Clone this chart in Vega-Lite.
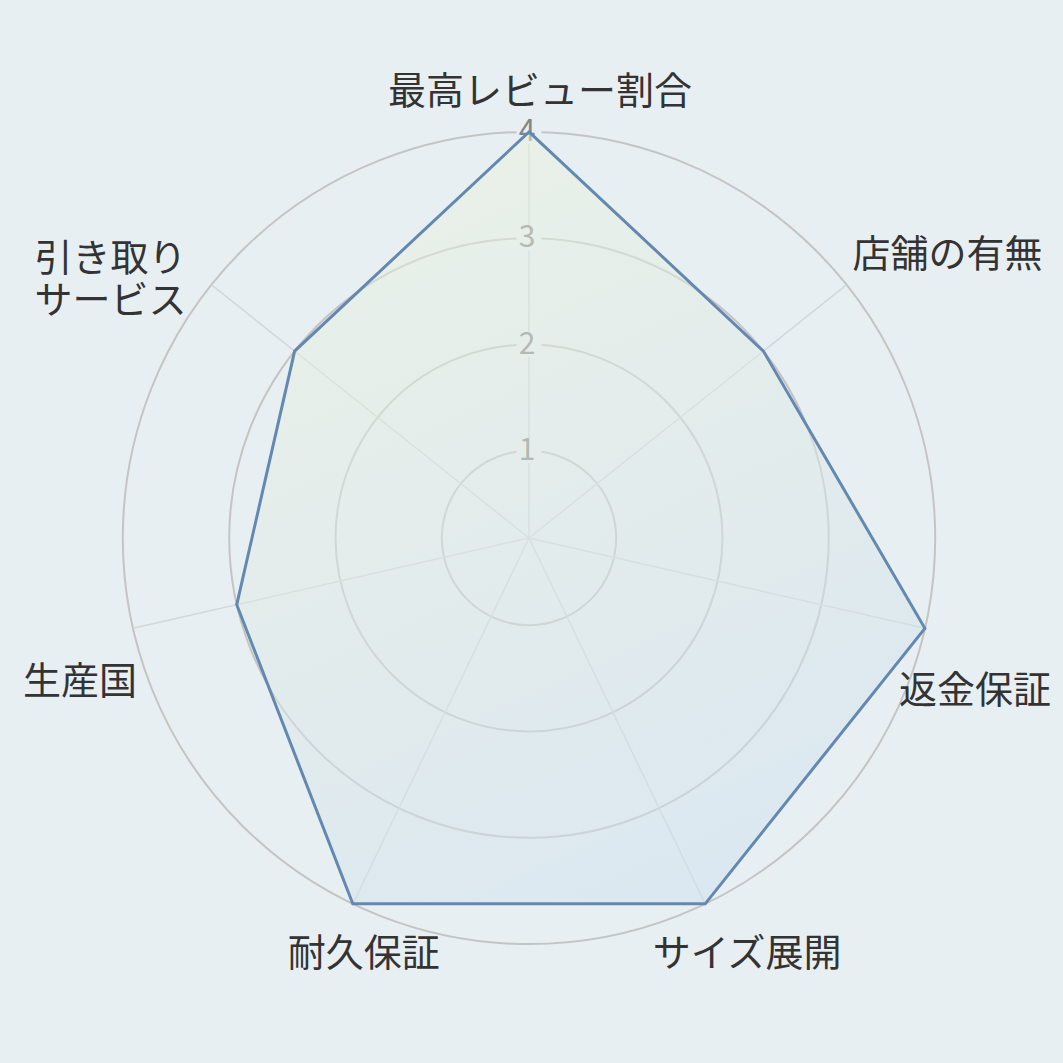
{
  "$schema": "https://vega.github.io/schema/vega-lite/v6.json",
  "width": 1063,
  "height": 1063,
  "autosize": {"type": "none"},
  "padding": 0,
  "background": "#e8eff3",
  "config": {
    "view": {"stroke": null},
    "axis": {"disable": true},
    "text": {"font": "Noto Sans CJK JP"}
  },
  "data": {
    "values": [
      {"idx": 0, "label": "最高レビュー割合", "value": 4},
      {"idx": 1, "label": "店舗の有無", "value": 3},
      {"idx": 2, "label": "返金保証", "value": 4},
      {"idx": 3, "label": "サイズ展開", "value": 4},
      {"idx": 4, "label": "耐久保証", "value": 4},
      {"idx": 5, "label": "生産国", "value": 3},
      {"idx": 6, "label": "引き取り\nサービス", "value": 3}
    ]
  },
  "transform": [
    {"calculate": "datum.idx * 2 * PI / 7", "as": "theta"},
    {"calculate": "(datum.value - 0.18) * sin(datum.theta)", "as": "x"},
    {"calculate": "(datum.value - 0.18) * cos(datum.theta)", "as": "y"},
    {"calculate": "3.82 * sin(datum.theta)", "as": "xo"},
    {"calculate": "3.82 * cos(datum.theta)", "as": "yo"}
  ],
  "layer": [
    {
      "data": {"values": [{"ring": 1}, {"ring": 2}, {"ring": 3}, {"ring": 4}]},
      "mark": {"type": "arc", "theta": 0, "theta2": 6.2832, "filled": false, "stroke": "#c4c4c4", "strokeWidth": 2},
      "encoding": {
        "x": {"datum": 0, "type": "quantitative", "scale": {"domain": [-4.9765, 5.0235], "nice": false, "zero": false}},
        "y": {"datum": 0, "type": "quantitative", "scale": {"domain": [-4.9389, 5.0611], "nice": false, "zero": false}},
        "radius": {"field": "ring", "type": "quantitative", "stack": null, "scale": {"type": "linear", "domain": [0.18, 4], "range": [0, 406.07], "zero": false, "nice": false}}
      }
    },
    {
      "mark": {"type": "rule", "stroke": "#d3d7da", "strokeWidth": 1.5},
      "encoding": {
        "x": {"field": "xo", "type": "quantitative"},
        "y": {"field": "yo", "type": "quantitative"},
        "x2": {"datum": 0},
        "y2": {"datum": 0}
      }
    },
    {
      "data": {"values": [{"tick": 1}, {"tick": 2}, {"tick": 3}, {"tick": 4}]},
      "transform": [{"calculate": "datum.tick - 0.18", "as": "ty"}],
      "mark": {"type": "point", "shape": "square", "size": 620, "filled": true, "fill": "#e8eff3", "opacity": 1, "strokeWidth": 0},
      "encoding": {
        "x": {"datum": 0, "type": "quantitative"},
        "y": {"field": "ty", "type": "quantitative"}
      }
    },
    {
      "data": {"values": [{"tick": 1}, {"tick": 2}, {"tick": 3}, {"tick": 4}]},
      "transform": [{"calculate": "datum.tick - 0.18", "as": "ty"}],
      "mark": {"type": "text", "fontSize": 30, "fill": "#858585", "baseline": "middle", "align": "center", "dx": -2},
      "encoding": {
        "x": {"datum": 0, "type": "quantitative"},
        "y": {"field": "ty", "type": "quantitative"},
        "text": {"field": "tick"}
      }
    },
    {
      "mark": {
        "type": "line",
        "interpolate": "linear-closed",
        "stroke": "#6389b0",
        "strokeWidth": 3,
        "fill": {
          "gradient": "linear",
          "x1": 0.3, "y1": 0, "x2": 0.7, "y2": 1,
          "stops": [
            {"offset": 0, "color": "#eaf2dc"},
            {"offset": 1, "color": "#cfe0ef"}
          ]
        },
        "fillOpacity": 0.5
      },
      "encoding": {
        "x": {"field": "x", "type": "quantitative"},
        "y": {"field": "y", "type": "quantitative"},
        "order": {"field": "idx"}
      }
    },
    {
      "transform": [{"filter": "datum.idx == 0"}],
      "mark": {"type": "text", "fontSize": 38, "fill": "#333333", "align": "center", "baseline": "middle", "dx": 11, "dy": -39},
      "encoding": {"x": {"field": "xo", "type": "quantitative"}, "y": {"field": "yo", "type": "quantitative"}, "text": {"field": "label"}}
    },
    {
      "transform": [{"filter": "datum.idx == 1"}],
      "mark": {"type": "text", "fontSize": 38, "fill": "#333333", "align": "left", "baseline": "middle", "dx": 6, "dy": -29},
      "encoding": {"x": {"field": "xo", "type": "quantitative"}, "y": {"field": "yo", "type": "quantitative"}, "text": {"field": "label"}}
    },
    {
      "transform": [{"filter": "datum.idx == 2"}],
      "mark": {"type": "text", "fontSize": 38, "fill": "#333333", "align": "left", "baseline": "middle", "dx": -26, "dy": 64},
      "encoding": {"x": {"field": "xo", "type": "quantitative"}, "y": {"field": "yo", "type": "quantitative"}, "text": {"field": "label"}}
    },
    {
      "transform": [{"filter": "datum.idx == 3"}],
      "mark": {"type": "text", "fontSize": 38, "fill": "#333333", "align": "center", "baseline": "middle", "dx": 42, "dy": 51},
      "encoding": {"x": {"field": "xo", "type": "quantitative"}, "y": {"field": "yo", "type": "quantitative"}, "text": {"field": "label"}}
    },
    {
      "transform": [{"filter": "datum.idx == 4"}],
      "mark": {"type": "text", "fontSize": 38, "fill": "#333333", "align": "center", "baseline": "middle", "dx": 11, "dy": 51},
      "encoding": {"x": {"field": "xo", "type": "quantitative"}, "y": {"field": "yo", "type": "quantitative"}, "text": {"field": "label"}}
    },
    {
      "transform": [{"filter": "datum.idx == 5"}],
      "mark": {"type": "text", "fontSize": 38, "fill": "#333333", "align": "right", "baseline": "middle", "dx": 4, "dy": 55},
      "encoding": {"x": {"field": "xo", "type": "quantitative"}, "y": {"field": "yo", "type": "quantitative"}, "text": {"field": "label"}}
    },
    {
      "transform": [{"filter": "datum.idx == 6"}],
      "mark": {"type": "text", "fontSize": 38, "fill": "#333333", "align": "right", "baseline": "middle", "lineBreak": "\n", "lineHeight": 42, "dx": -25, "dy": -25},
      "encoding": {"x": {"field": "xo", "type": "quantitative"}, "y": {"field": "yo", "type": "quantitative"}, "text": {"field": "label"}}
    }
  ]
}
